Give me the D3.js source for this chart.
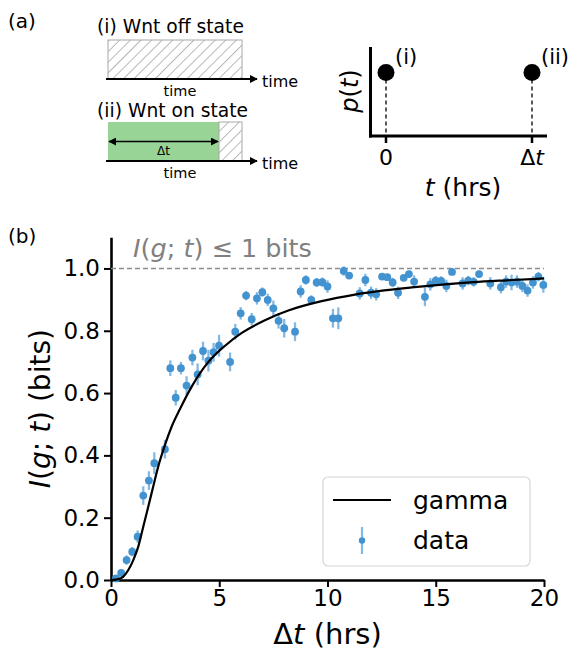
<!DOCTYPE html>
<html>
<head>
<meta charset="utf-8">
<script src="https://cdn.jsdelivr.net/npm/d3@7"></script>
<style>
body { margin: 0; background: #fff; }
text { font-family: "DejaVu Sans", sans-serif; }
</style>
</head>
<body>
<svg id="fig" width="573" height="653"></svg>
<script>
// data points
var dt = [0.23, 0.47, 0.72, 0.98, 1.23, 1.49, 1.75, 2.00, 2.49, 2.74, 2.99, 3.23, 3.49, 3.76, 4.00, 4.25,
          4.50, 4.74, 4.99, 5.50, 5.74, 5.99, 6.24, 6.50, 6.74, 6.99, 7.24, 7.50, 7.74, 8.00, 8.50, 8.76,
          9.00, 9.25, 9.50, 9.76, 10.00, 10.25, 10.50, 10.75, 11.00, 11.49, 11.75, 12.01, 12.25, 12.52,
          12.76, 13.01, 13.26, 13.52, 13.76, 14.00, 14.50, 14.75, 15.00, 15.25, 15.49, 15.75, 16.24,
          16.50, 16.75, 17.00, 17.52, 18.01, 18.25, 18.50, 18.75, 19.00, 19.24, 19.49, 19.74, 19.97];
var info = [0.005, 0.023, 0.064, 0.091, 0.139, 0.271, 0.319, 0.375, 0.420, 0.680, 0.585, 0.680, 0.624, 0.714, 0.660, 0.735,
            0.704, 0.731, 0.752, 0.700, 0.797, 0.856, 0.913, 0.837, 0.904, 0.924, 0.899, 0.872, 0.832, 0.808, 0.797, 0.926,
            0.963, 0.899, 0.955, 0.956, 0.942, 0.840, 0.840, 0.992, 0.977, 0.920, 0.963, 0.922, 0.917, 0.974,
            0.972, 0.955, 0.922, 0.970, 0.982, 0.958, 0.909, 0.949, 0.961, 0.960, 0.944, 0.989, 0.952,
            0.961, 0.957, 0.982, 0.952, 0.940, 0.958, 0.955, 0.958, 0.944, 0.929, 0.955, 0.974, 0.947];
var infoErr = [0.006, 0.010, 0.015, 0.015, 0.020, 0.030, 0.030, 0.035, 0.030, 0.025, 0.025, 0.020, 0.030, 0.025, 0.035, 0.030,
               0.035, 0.030, 0.035, 0.030, 0.025, 0.020, 0.015, 0.020, 0.020, 0.015, 0.020, 0.025, 0.025, 0.030, 0.030, 0.020,
               0.015, 0.015, 0.015, 0.015, 0.020, 0.030, 0.035, 0.015, 0.010, 0.020, 0.020, 0.020, 0.020, 0.010,
               0.010, 0.015, 0.020, 0.010, 0.010, 0.020, 0.030, 0.020, 0.015, 0.015, 0.020, 0.010, 0.020,
               0.015, 0.015, 0.010, 0.020, 0.020, 0.020, 0.025, 0.020, 0.020, 0.020, 0.020, 0.015, 0.025];

// gamma fit
var gammaT = [0, 0.3, 0.57, 0.8, 1.03, 1.26, 1.49, 1.72, 1.95, 2.18, 2.49, 2.8, 3.18, 3.72, 4.5, 5.27,
              6.04, 7.11, 8.19, 9.73, 11.27, 12.35, 13.89, 15.43, 16.74, 18.28, 20];
var gammaI = [0, 0.002, 0.011, 0.032, 0.064, 0.107, 0.171, 0.235, 0.300, 0.364, 0.433, 0.492, 0.548, 0.620, 0.700, 0.752,
              0.793, 0.834, 0.865, 0.895, 0.916, 0.927, 0.939, 0.949, 0.956, 0.962, 0.968];

var xTicks = [0, 5, 10, 15, 20];
var yTicks = [0, 0.2, 0.4, 0.6, 0.8, 1.0];
var infoBound = 1.0;
var legendLabels = ["gamma", "data"];

// schematic (a)
var stateTimes = ["0", "\u0394t"];
var stateNames = ["(i)", "(ii)"];

var blue = "#4393d0";
var blueLight = "#84b9e3";

var svg = d3.select("#fig");

// hatch pattern
var defs = svg.append("defs");
var pat = defs.append("pattern")
    .attr("id", "hatch")
    .attr("patternUnits", "userSpaceOnUse")
    .attr("width", 7.5).attr("height", 7.5)
    .attr("patternTransform", "rotate(45)");
pat.append("line")
    .attr("x1", 0).attr("y1", 0).attr("x2", 0).attr("y2", 7.5)
    .attr("stroke", "#808080").attr("stroke-width", 1.1);
defs.append("marker")
    .attr("id", "arrowR")
    .attr("viewBox", "0 0 10 10").attr("refX", 9).attr("refY", 5)
    .attr("markerWidth", 8).attr("markerHeight", 8)
    .attr("markerUnits", "userSpaceOnUse")
    .attr("orient", "auto-start-reverse")
    .append("path").attr("d", "M0,0L10,5L0,10z").attr("fill", "#000");

/* ---------- panel (a), left ---------- */
svg.append("text").attr("x", 8).attr("y", 28).style("font-size", "20px").text("(a)");

function stateRow(y0, label, onWidth, labelY) {
    var top = y0, bottom = y0 + 39;
    svg.append("text").attr("x", 97).attr("y", labelY).style("font-size", "18.7px").text(label);
    if (onWidth > 0) {
        svg.append("rect").attr("x", 108).attr("y", top).attr("width", onWidth).attr("height", bottom - top)
            .attr("fill", "#98d495");
    }
    svg.append("rect").attr("x", 108 + onWidth).attr("y", top).attr("width", 134 - onWidth).attr("height", bottom - top)
        .attr("fill", "url(#hatch)").attr("stroke", "#a8a8a8").attr("stroke-width", 1);
    svg.append("line").attr("x1", 106).attr("x2", 257).attr("y1", bottom).attr("y2", bottom)
        .attr("stroke", "#000").attr("stroke-width", 2).attr("marker-end", "url(#arrowR)");
    svg.append("text").attr("x", 262).attr("y", bottom + 8).style("font-size", "16px").text("time");
    svg.append("text").attr("x", 180).attr("y", bottom + 16.5).attr("text-anchor", "middle")
        .style("font-size", "14.5px").text("time");
    if (onWidth > 0) {
        var ym = (top + bottom) / 2;
        svg.append("line").attr("x1", 109).attr("x2", 107 + onWidth).attr("y1", ym).attr("y2", ym)
            .attr("stroke", "#000").attr("stroke-width", 1.5)
            .attr("marker-start", "url(#arrowR)").attr("marker-end", "url(#arrowR)");
        svg.append("text").attr("x", 108 + onWidth / 2).attr("y", ym + 13).attr("text-anchor", "middle")
            .style("font-size", "12px").text("\u0394t");
    }
}
stateRow(40, "(i) Wnt off state", 0, 33);
stateRow(122, "(ii) Wnt on state", 111, 117);

/* ---------- panel (a), right ---------- */
var px = d3.scalePoint().domain(stateTimes).range([386, 532]);
var pAxisY = 136;
var pDotY = 72.5;
svg.append("line").attr("x1", 370.5).attr("x2", 370.5).attr("y1", 47).attr("y2", pAxisY + 1.5)
    .attr("stroke", "#000").attr("stroke-width", 3);
svg.append("line").attr("x1", 369).attr("x2", 547).attr("y1", pAxisY).attr("y2", pAxisY)
    .attr("stroke", "#000").attr("stroke-width", 3);
stateTimes.forEach(function (d, i) {
    var x = px(d);
    svg.append("line").attr("x1", x).attr("x2", x).attr("y1", pAxisY).attr("y2", pAxisY + 7)
        .attr("stroke", "#000").attr("stroke-width", 2.5);
    svg.append("line").attr("x1", x).attr("x2", x).attr("y1", pDotY).attr("y2", pAxisY)
        .attr("stroke", "#000").attr("stroke-width", 1.3).attr("stroke-dasharray", "4,3");
    svg.append("circle").attr("cx", x).attr("cy", pDotY).attr("r", 8.5).attr("fill", "#000");
    svg.append("text").attr("x", x + 9).attr("y", 64).style("font-size", "21px").text(stateNames[i]);
    var t = svg.append("text").attr("x", x).attr("y", 165).attr("text-anchor", "middle").style("font-size", "22px");
    if (d === "0") t.text(d);
    else { t.append("tspan").text("\u0394"); t.append("tspan").style("font-style", "italic").text("t"); }
});
var tl = svg.append("text").attr("x", 463).attr("y", 196).attr("text-anchor", "middle").style("font-size", "25px");
tl.append("tspan").style("font-style", "italic").text("t");
tl.append("tspan").text(" (hrs)");
var pl = svg.append("text").attr("transform", "translate(358,91) rotate(-90)").attr("text-anchor", "middle")
    .style("font-size", "24px");
pl.append("tspan").style("font-style", "italic").text("p");
pl.append("tspan").text("(");
pl.append("tspan").style("font-style", "italic").text("t");
pl.append("tspan").text(")");

/* ---------- panel (b) ---------- */
svg.append("text").attr("x", 8).attr("y", 243).style("font-size", "20px").text("(b)");

var x = d3.scaleLinear().domain([0, 20]).range([111, 544]);
var y = d3.scaleLinear().domain([0, 1.1]).range([580, 237.3]);

var xAxis = svg.append("g").attr("transform", "translate(0," + y(0) + ")")
    .call(d3.axisBottom(x).tickValues(xTicks).tickSize(7).tickSizeOuter(0).tickPadding(3).tickFormat(d3.format("d")));
var yAxis = svg.append("g").attr("transform", "translate(" + x(0) + ",0)")
    .call(d3.axisLeft(y).tickValues(yTicks).tickSize(7).tickSizeOuter(0).tickPadding(4).tickFormat(d3.format(".1f")));
[xAxis, yAxis].forEach(function (a) {
    a.select(".domain").attr("stroke-width", 2.6);
    a.selectAll(".tick line").attr("stroke-width", 2);
    a.selectAll(".tick text").style("font-size", "23px").attr("fill", "#000")
        .style("font-family", "'DejaVu Sans', sans-serif");
});

// bound line
svg.append("line").attr("x1", x(0)).attr("x2", x(20)).attr("y1", y(infoBound)).attr("y2", y(infoBound))
    .attr("stroke", "#8c8c8c").attr("stroke-width", 1.4).attr("stroke-dasharray", "5,3");
var bt = svg.append("text").attr("x", 133).attr("y", 257).attr("fill", "#808080").style("font-size", "25.5px");
bt.append("tspan").style("font-style", "italic").text("I");
bt.append("tspan").text("(");
bt.append("tspan").style("font-style", "italic").text("g");
bt.append("tspan").text("; ");
bt.append("tspan").style("font-style", "italic").text("t");
bt.append("tspan").text(") \u2264 1 bits");

// data with error bars
var pts = dt.map(function (d, i) { return { t: d, v: info[i], e: infoErr[i] }; });
svg.append("g").selectAll("line").data(pts).enter().append("line")
    .attr("x1", function (d) { return x(d.t); }).attr("x2", function (d) { return x(d.t); })
    .attr("y1", function (d) { return y(d.v - d.e); }).attr("y2", function (d) { return y(d.v + d.e); })
    .attr("stroke", blueLight).attr("stroke-width", 2.3);
svg.append("g").selectAll("circle").data(pts).enter().append("circle")
    .attr("cx", function (d) { return x(d.t); }).attr("cy", function (d) { return y(d.v); })
    .attr("r", 3.9).attr("fill", blue);

// gamma curve
var line = d3.line().x(function (d) { return x(d[0]); }).y(function (d) { return y(d[1]); }).curve(d3.curveMonotoneX);
svg.append("path").datum(gammaT.map(function (d, i) { return [d, gammaI[i]]; }))
    .attr("d", line).attr("fill", "none").attr("stroke", "#000").attr("stroke-width", 2.2);

// axis labels
var yl = svg.append("text").attr("transform", "translate(50," + ((y(0) + y(1.1)) / 2) + ") rotate(-90)")
    .attr("text-anchor", "middle").style("font-size", "28px");
yl.append("tspan").style("font-style", "italic").text("I");
yl.append("tspan").text("(");
yl.append("tspan").style("font-style", "italic").text("g");
yl.append("tspan").text("; ");
yl.append("tspan").style("font-style", "italic").text("t");
yl.append("tspan").text(") (bits)");
var xl = svg.append("text").attr("x", (x(0) + x(20)) / 2).attr("y", 644).attr("text-anchor", "middle")
    .style("font-size", "29px");
xl.append("tspan").text("\u0394");
xl.append("tspan").style("font-style", "italic").text("t");
xl.append("tspan").text(" (hrs)");

// legend
var lg = svg.append("g").attr("transform", "translate(323,477)");
lg.append("rect").attr("width", 207).attr("height", 89).attr("rx", 5)
    .attr("fill", "#fff").attr("fill-opacity", 0.8).attr("stroke", "#d6d6d6").attr("stroke-width", 1.2);
lg.append("line").attr("x1", 10).attr("x2", 68).attr("y1", 23).attr("y2", 23).attr("stroke", "#000").attr("stroke-width", 2.2);
lg.append("line").attr("x1", 39).attr("x2", 39).attr("y1", 50).attr("y2", 77).attr("stroke", blueLight).attr("stroke-width", 2.2);
lg.append("circle").attr("cx", 39).attr("cy", 63.5).attr("r", 3.2).attr("fill", blue);
lg.selectAll("text.lab").data(legendLabels).enter().append("text")
    .attr("class", "lab")
    .attr("x", 90).attr("y", function (d, i) { return 32 + i * 40; })
    .style("font-size", "25px").text(function (d) { return d; });
</script>
</body>
</html>
